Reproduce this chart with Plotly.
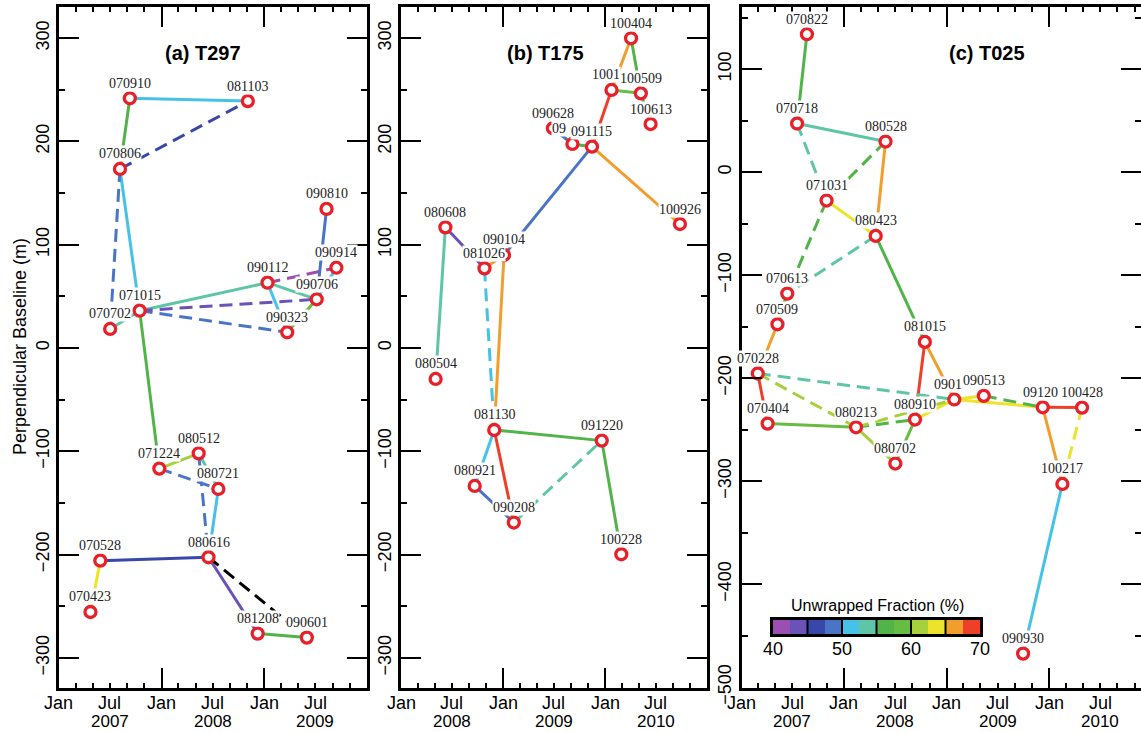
import plotly.graph_objects as go

W, H = 1141, 732
SANS = "Liberation Sans, Arial, Helvetica, sans-serif"
SERIF = "Liberation Serif, Times New Roman, serif"

# ---------------- colour scale (unwrapped fraction, %) ----------------
BIN_LOW = [40.0, 42.5, 45.0, 47.5, 50.0, 52.5, 55.0, 57.5, 60.0, 62.5, 65.0, 67.5]
BIN_HIGH = [42.5, 45.0, 47.5, 50.0, 52.5, 55.0, 57.5, 60.0, 62.5, 65.0, 67.5, 70.0]
BIN_COLORS = ["#9c4fb2", "#6a52b6", "#3848a8", "#4a74c6", "#46c2e8", "#5ec6a6",
              "#52b448", "#66bd42", "#a6d13c", "#ece42a", "#f29e2c", "#ee3f28"]
CB_TICKS = [40, 50, 60, 70]
CB_SEPARATORS = [45, 50, 55, 60, 65]

# ---------------- (a) T297 ----------------
a_dates = ["2007-04-23", "2007-05-28", "2007-07-02", "2007-08-06", "2007-09-10", "2007-10-15",
           "2007-12-24", "2008-05-12", "2008-06-16", "2008-07-21", "2008-11-03", "2008-12-08",
           "2009-01-12", "2009-03-23", "2009-06-01", "2009-07-06", "2009-08-10", "2009-09-14"]
a_bperp = [-255.6, -205.9, 18.4, 173.3, 241.7, 36.1,
           -116.8, -102.0, -202.6, -136.5, 239.0, -276.5,
           63.2, 15.2, -280.4, 47.1, 134.6, 77.7]
a_from = ["070910", "070910", "070806", "071015", "090112", "090112", "090323", "090810", "090914",
          "070702", "071015", "071224", "080512", "080721", "070528", "070423", "080616", "081208",
          "070806", "070806", "090112", "071015", "071015", "071224", "080512", "080616"]
a_to = ["081103", "070806", "071015", "090112", "090706", "090323", "090706", "090706", "090706",
        "071015", "071224", "080512", "080721", "080616", "080616", "070528", "081208", "090601",
        "081103", "070702", "090914", "090706", "090323", "080721", "080616", "090601"]
a_frac = [51, 56, 51, 54, 54, 51, 59, 48.5, 51,
          54, 57, 61, 54, 51, 46, 63.5, 43.5, 57,
          46, 48.5, 41, 43.5, 48.5, 48.5, 48.5, None]
a_dashed = [0, 0, 0, 0, 0, 0, 0, 0, 0, 0, 0, 0, 0, 0, 0, 0, 0, 0,
            1, 1, 1, 1, 1, 1, 1, 1]

# ---------------- (b) T175 ----------------
b_dates = ["2008-05-04", "2008-06-08", "2008-09-21", "2008-10-26", "2008-11-30", "2009-01-04",
           "2009-02-08", "2009-06-28", "2009-09-06", "2009-11-15", "2009-12-20", "2010-01-24",
           "2010-02-28", "2010-04-04", "2010-05-09", "2010-06-13", "2010-09-26"]
b_bperp = [-30.0, 116.8, -133.6, 77.1, -79.4, 90.0,
           -169.0, 212.7, 197.5, 194.9, -89.7, 249.8,
           -199.7, 299.8, 246.5, 216.8, 120.0]
b_from = ["100404", "100404", "100124", "100509", "100124", "091115", "090628", "091115", "091115",
          "080608", "080608", "081026", "090104", "081130", "081130", "081130", "080921", "091220",
          "081026", "090208"]
b_to = ["100124", "100509", "100509", "100613", "091115", "090906", "090906", "090104", "100926",
        "080504", "081026", "090104", "081130", "091220", "080921", "090208", "090208", "100228",
        "081130", "091220"]
b_frac = [66, 56, 59, 57, 68.5, 56, 48.5, 48.5, 66,
          54, 43.5, 66, 66, 57, 51, 68.5, 48.5, 57,
          51, 54]
b_dashed = [0, 0, 0, 0, 0, 0, 0, 0, 0, 0, 0, 0, 0, 0, 0, 0, 0, 0, 1, 1]

# ---------------- (c) T025 ----------------
c_dates = ["2007-02-28", "2007-04-04", "2007-05-09", "2007-06-13", "2007-07-18", "2007-08-22",
           "2007-10-31", "2008-02-13", "2008-04-23", "2008-05-28", "2008-07-02", "2008-09-10",
           "2008-10-15", "2009-01-28", "2009-05-13", "2009-09-30", "2009-12-09", "2010-02-17",
           "2010-04-28"]
c_bperp = [-195.4, -244.0, -147.6, -117.8, 47.3, 134.0,
           -27.5, -247.6, -61.8, 29.8, -282.8, -240.1,
           -164.7, -220.6, -217.1, -467.3, -228.2, -302.6,
           -228.5]
c_from = ["070822", "070718", "080528", "071031", "080423", "070613", "070509", "070228", "070404",
          "080213", "080702", "080910", "081015", "080910", "090128", "090128", "091209", "091209",
          "100217",
          "070718", "080528", "071031", "080423", "070228", "070228", "080213", "080213", "090513",
          "100428"]
c_to = ["070718", "080528", "080423", "080423", "081015", "070509", "070228", "070404", "080213",
        "080702", "080910", "081015", "090128", "090128", "090513", "091209", "100428", "100217",
        "090930",
        "071031", "071031", "070613", "070613", "090128", "080213", "090128", "080910", "091209",
        "100217"]
c_frac = [57, 54, 66, 63.5, 57, 57, 66, 68.5, 58.5,
          61, 58.5, 68.5, 66, 63.5, 63.5, 63.5, 68.5, 66,
          51,
          54, 57, 57, 54, 54, 61, 61, 57, 57,
          63.5]
c_dashed = [0] * 19 + [1] * 10

# labels that are partly hidden behind a neighbouring label in the original
PARTIAL_LABELS = {"100124": "1001", "090906": "09", "090128": "0901", "091209": "09120"}

# ---------------- axis tick labels ----------------
a_xlab_dates = ["2007-01-01", "2007-07-01", "2008-01-01", "2008-07-01", "2009-01-01", "2009-07-01"]
a_xlab_text = ["Jan", "Jul", "Jan", "Jul", "Jan", "Jul"]
a_xlab_year = ["", "2007", "", "2008", "", "2009"]
b_xlab_dates = ["2008-01-01", "2008-07-01", "2009-01-01", "2009-07-01", "2010-01-01", "2010-07-01"]
b_xlab_text = ["Jan", "Jul", "Jan", "Jul", "Jan", "Jul"]
b_xlab_year = ["", "2008", "", "2009", "", "2010"]
c_xlab_dates = ["2007-01-01", "2007-07-01", "2008-01-01", "2008-07-01", "2009-01-01", "2009-07-01",
                "2010-01-01", "2010-07-01"]
c_xlab_text = ["Jan", "Jul", "Jan", "Jul", "Jan", "Jul", "Jan", "Jul"]
c_xlab_year = ["", "2007", "", "2008", "", "2009", "", "2010"]
ab_yticks = [-300, -200, -100, 0, 100, 200, 300]
c_yticks = [-500, -400, -300, -200, -100, 0, 100]

panels = [
    dict(name="(a) T297", dates=a_dates, bperp=a_bperp, efrom=a_from, eto=a_to, frac=a_frac,
         dashed=a_dashed, xl=a_xlab_dates, xt=a_xlab_text, xy=a_xlab_year, yt=ab_yticks,
         px=(59, 367), xr=["2007-01-01", "2010-01-01"], yr=[-329.2, 330.1], t0="2007-01-01",
         title_x=203),
    dict(name="(b) T175", dates=b_dates, bperp=b_bperp, efrom=b_from, eto=b_to, frac=b_frac,
         dashed=b_dashed, xl=b_xlab_dates, xt=b_xlab_text, xy=b_xlab_year, yt=ab_yticks,
         px=(401, 707), xr=["2008-01-01", "2011-01-01"], yr=[-329.2, 330.1], t0="2008-01-01",
         title_x=545),
    dict(name="(c) T025", dates=c_dates, bperp=c_bperp, efrom=c_from, eto=c_to, frac=c_frac,
         dashed=c_dashed, xl=c_xlab_dates, xt=c_xlab_text, xy=c_xlab_year, yt=c_yticks,
         px=(741.5, 1141), xr=["2007-01-01", "2010-11-24"], yr=[-500.7, 160.4], t0="2007-01-01",
         title_x=987),
]

TOP_PX, BOT_PX = 7, 688
ydom = [1 - BOT_PX / H, 1 - TOP_PX / H]


def frac_color(f):
    if f is None:
        return "#000000"
    for lo, hi, col in zip(BIN_LOW, BIN_HIGH, BIN_COLORS):
        if lo <= f < hi:
            return col
    return BIN_COLORS[-1]


def code(d):
    return d[2:4] + d[5:7] + d[8:10]


def txt(x, y, text, size=18, family=SANS, **kw):
    a = dict(x=x, y=y, text=text, showarrow=False, xanchor="center", yanchor="middle",
             font=dict(family=family, size=size, color="black"))
    a.update(kw)
    return a


fig = go.Figure()
annotations = []
shapes = []

for i, p in enumerate(panels, start=1):
    xa = "x" if i == 1 else f"x{i}"
    ya = "y" if i == 1 else f"y{i}"
    lookup = {code(d): (d, b) for d, b in zip(p["dates"], p["bperp"])}
    groups = {}
    for f0, f1, fr, ds in zip(p["efrom"], p["eto"], p["frac"], p["dashed"]):
        key = (frac_color(fr), ds)
        g = groups.setdefault(key, ([], []))
        g[0].extend([lookup[f0][0], lookup[f1][0], None])
        g[1].extend([lookup[f0][1], lookup[f1][1], None])
    for (col, ds), (gx, gy) in groups.items():
        fig.add_trace(go.Scatter(
            x=gx, y=gy, mode="lines", xaxis=xa, yaxis=ya, showlegend=False, hoverinfo="skip",
            line=dict(color=col, width=3, dash="13px,7px" if ds else "solid")))
    fig.add_trace(go.Scatter(
        x=p["dates"], y=p["bperp"], mode="markers", xaxis=xa, yaxis=ya, showlegend=False,
        marker=dict(symbol="circle", size=11, color="white",
                    line=dict(color="#e8202a", width=3.3))))
    # point labels (drawn in date order, later ones on top)
    for d, b in zip(p["dates"], p["bperp"]):
        c = code(d)
        ann = txt(d, b, c, size=14, family=SERIF, xref=xa, yref=ya, yshift=15,
                  bgcolor="white", borderpad=0)
        ann["font"]["color"] = "#222"
        if c in PARTIAL_LABELS:
            ann.update(text=PARTIAL_LABELS[c], xanchor="left", xshift=-21)
        annotations.append(ann)
    # x tick labels
    for d, t, yr in zip(p["xl"], p["xt"], p["xy"]):
        annotations.append(txt(d, 1 - 703 / H, t, xref=xa, yref="paper"))
        if yr:
            annotations.append(txt(d, 1 - 721.5 / H, yr, size=17, xref=xa, yref="paper"))
    # panel title
    annotations.append(txt(p["title_x"] / W, 1 - 53 / H, "<b>" + p["name"] + "</b>", size=20,
                           xref="paper", yref="paper"))

    xdom = [p["px"][0] / W, min(1.0, p["px"][1] / W)]
    xkey = "xaxis" if i == 1 else f"xaxis{i}"
    ykey = "yaxis" if i == 1 else f"yaxis{i}"
    fig.update_layout({
        xkey: dict(domain=xdom, anchor=ya, type="date", range=p["xr"], automargin=False,
                   tickmode="array", tickvals=[d for d, t in zip(p["xl"], p["xt"]) if t == "Jan"],
                   showticklabels=False, ticks="inside", ticklen=20, tickwidth=1.5,
                   tickcolor="black",
                   minor=dict(dtick="M2", tick0=p["t0"], ticks="inside", ticklen=5,
                              tickwidth=1.5, tickcolor="black"),
                   showline=True, linewidth=3, linecolor="black", mirror="ticks",
                   showgrid=False, zeroline=False),
        ykey: dict(domain=ydom, anchor=xa, range=p["yr"], tickmode="array", tickvals=p["yt"],
                   automargin=False,
                   ticks="inside", ticklen=20, tickwidth=1.5, tickcolor="black",
                   tickangle=-90, tickfont=dict(family=SANS, size=18, color="black"),
                   minor=dict(dtick=50, tick0=0, ticks="inside", ticklen=6, tickwidth=1.5,
                              tickcolor="black"),
                   showline=True, linewidth=3, linecolor="black", mirror="ticks",
                   showgrid=False, zeroline=False),
    })

# y-axis title
annotations.append(txt(20 / W, 1 - 347 / H, "Perpendicular Baseline (m)", textangle=-90,
                       xref="paper", yref="paper"))

# ---------------- colour bar (heatmap in its own small axes) ----------------
cb_x = [(lo + hi) / 2 for lo, hi in zip(BIN_LOW, BIN_HIGH)]
cscale = []
n = len(BIN_COLORS)
for k, col in enumerate(BIN_COLORS):
    cscale.append([k / n, col])
    cscale.append([(k + 1) / n, col])
fig.add_trace(go.Heatmap(x=cb_x, y=[0.5], z=[cb_x], zmin=BIN_LOW[0], zmax=BIN_HIGH[-1],
                         colorscale=cscale, showscale=False, xaxis="x4", yaxis="y4",
                         hoverinfo="skip"))
fig.update_layout(
    xaxis4=dict(domain=[773 / W, 980 / W], anchor="y4", range=[BIN_LOW[0], BIN_HIGH[-1]],
                automargin=False, showticklabels=False, ticks="",
                showline=True, linewidth=3, linecolor="black", mirror=True,
                showgrid=False, zeroline=False),
    yaxis4=dict(domain=[1 - 634 / H, 1 - 620 / H], anchor="x4", range=[0, 1],
                automargin=False, showticklabels=False, ticks="", showline=True, linewidth=3,
                linecolor="black", mirror=True, showgrid=False, zeroline=False),
)
for s in CB_SEPARATORS:
    shapes.append(dict(type="line", xref="x4", yref="y4 domain", x0=s, x1=s, y0=0, y1=1,
                       line=dict(color="black", width=2)))
for t in CB_TICKS:
    annotations.append(txt(t, 1 - 649 / H, str(t), xref="x4", yref="paper"))
annotations.append(txt(877 / W, 1 - 605 / H, "Unwrapped Fraction (%)", size=16,
                       xref="paper", yref="paper"))

fig.update_layout(width=W, height=H, margin=dict(l=0, r=0, t=0, b=0, autoexpand=False),
                  paper_bgcolor="white", plot_bgcolor="white", showlegend=False,
                  annotations=annotations, shapes=shapes)

fig.write_html("out.html", config={"displayModeBar": False},
               post_script="document.body.style.margin='0px';document.body.style.overflow='hidden';")
